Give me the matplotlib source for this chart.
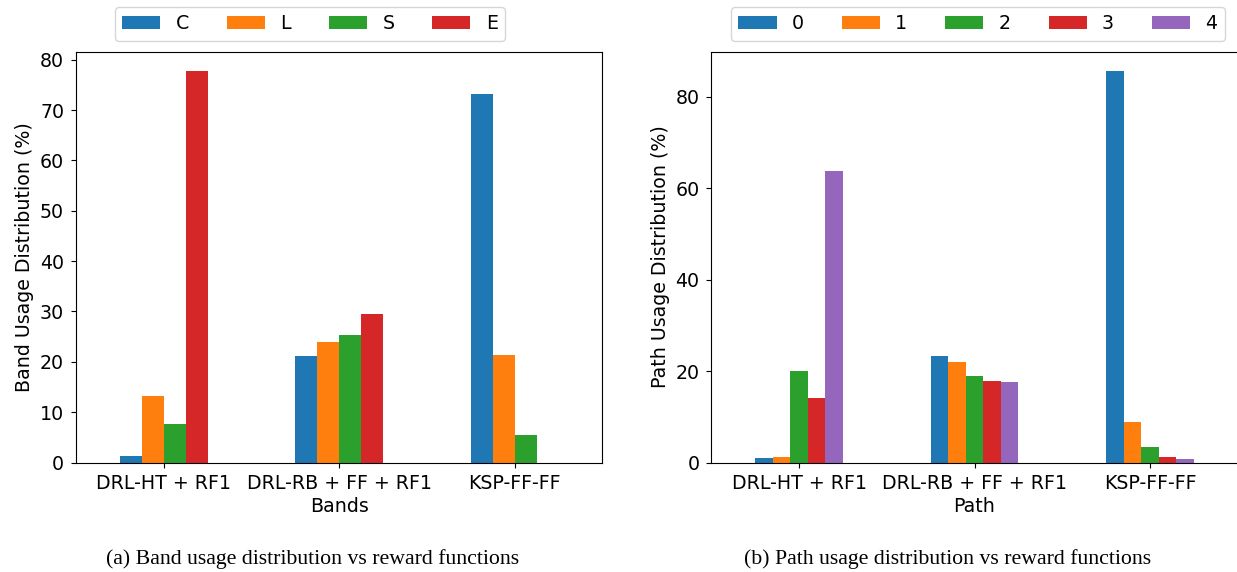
import numpy as np
import matplotlib
matplotlib.use("Agg")
import matplotlib.pyplot as plt

methods = ["DRL-HT + RF1", "DRL-RB + FF + RF1", "KSP-FF-FF"]

band_labels = ["C", "L", "S", "E"]
band_C = [1.26, 21.2, 73.2]
band_L = [13.2, 24.0, 21.4]
band_S = [7.6, 25.4, 5.45]
band_E = [77.7, 29.5, 0.0]

path_labels = ["0", "1", "2", "3", "4"]
path_0 = [0.95, 23.3, 85.6]
path_1 = [1.17, 22.0, 8.85]
path_2 = [20.0, 18.9, 3.36]
path_3 = [14.1, 17.8, 1.17]
path_4 = [63.7, 17.6, 0.73]

plt.rcParams["font.size"] = 13.7
plt.rcParams["xtick.major.pad"] = 5
plt.rcParams["ytick.major.pad"] = 5
colors = plt.rcParams["axes.prop_cycle"].by_key()["color"]


def grouped_bars(ax, series, labels):
    n = len(series)
    w = 0.5 / n
    x = np.arange(len(methods))
    for i, (vals, lab) in enumerate(zip(series, labels)):
        ax.bar(x + (i - (n - 1) / 2) * w, vals, w, label=lab, color=colors[i])
    ax.set_xticks(x)
    ax.set_xticklabels(methods)
    ax.set_xlim(-0.5, len(methods) - 0.5)


fig = plt.figure(figsize=(12.37, 5.72), dpi=100)
ax1 = fig.add_axes([0.0614, 0.1914, 0.4256, 0.7182])
ax2 = fig.add_axes([0.5750, 0.1914, 0.4256, 0.7182])

grouped_bars(ax1, [band_C, band_L, band_S, band_E], band_labels)
ax1.set_xlabel("Bands", labelpad=3)
ax1.set_ylabel("Band Usage Distribution (%)", labelpad=4)
ax1.set_yticks(range(0, 81, 10))
h, l = ax1.get_legend_handles_labels()
fig.legend(h, l, loc="upper center", bbox_to_anchor=(0.2506, 0.988), ncol=4,
           borderaxespad=0)

grouped_bars(ax2, [path_0, path_1, path_2, path_3, path_4], path_labels)
ax2.set_xlabel("Path", labelpad=3)
ax2.set_ylabel("Path Usage Distribution (%)", labelpad=4)
ax2.set_yticks(range(0, 81, 20))
h, l = ax2.get_legend_handles_labels()
fig.legend(h, l, loc="upper center", bbox_to_anchor=(0.7906, 0.988), ncol=5,
           borderaxespad=0)

serif = ["Liberation Serif", "DejaVu Serif"]
fig.text(0.2530, 0.014, "(a) Band usage distribution vs reward functions",
         ha="center", va="baseline", family=serif, fontsize=15.7)
fig.text(0.7664, 0.014, "(b) Path usage distribution vs reward functions",
         ha="center", va="baseline", family=serif, fontsize=15.7)

fig.savefig("out.png", dpi=100)
